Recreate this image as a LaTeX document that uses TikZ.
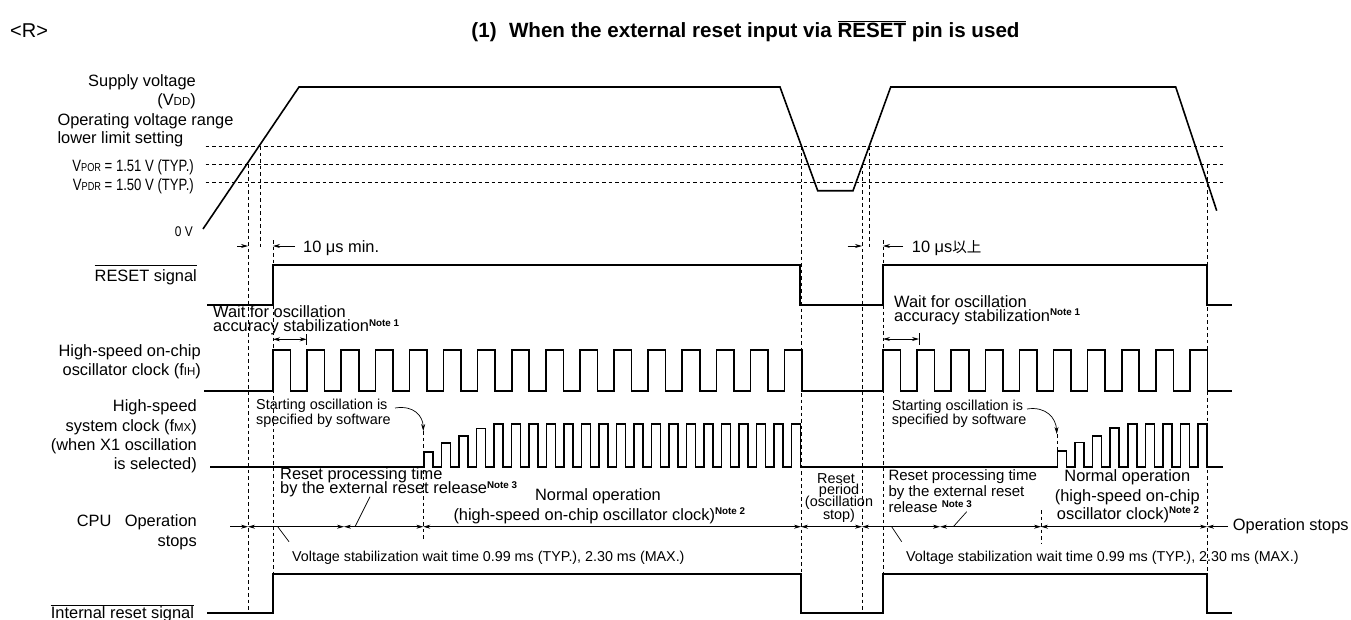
\documentclass[tikz,border=0pt]{standalone}
\usepackage{fontspec}
\usepackage{graphicx}
\setmainfont{Liberation Sans}
\newfontfamily\cjk{Noto Sans CJK JP}
\usetikzlibrary{arrows.meta}
\newcommand\smc[1]{{\fontsize{11.5}{11.5}\selectfont #1}}
\newcommand\nt[1]{\raisebox{5.5pt}{\fontsize{9.8}{9.8}\selectfont\bfseries Note #1}}
\newcommand\ovl[1]{$\overline{\mbox{#1}}$}
\newcommand\cnd[1]{\scalebox{0.8}[1]{#1}}
\begin{document}
\begin{tikzpicture}[x=1pt,y=-1pt,
  sig/.style={line width=1.6pt},
  dsh/.style={line width=0.8pt,dash pattern=on 3.5pt off 3pt},
  thinl/.style={line width=0.7pt},
  arr/.style={line width=0.7pt,-{Stealth[length=7pt,width=4pt]}},
  darr/.style={line width=0.7pt,{Stealth[length=7pt,width=4pt]}-{Stealth[length=7pt,width=4pt]}},
  lab/.style={inner sep=0pt,font=\fontsize{16.4}{16.4}\selectfont},
  mid/.style={inner sep=0pt,font=\fontsize{15}{15}\selectfont},
  sml/.style={inner sep=0pt,font=\fontsize{14.4}{14.4}\selectfont},
  vst/.style={inner sep=0pt,font=\fontsize{14.3}{14.3}\selectfont}]
\useasboundingbox (0,0) rectangle (1351,619);

% title
\node[inner sep=0pt,anchor=base west,font=\fontsize{20}{20}\selectfont] (rtag) at (10,37) {<R>};
\node[inner sep=0pt,anchor=base,font=\fontsize{20.6}{20.6}\selectfont\bfseries] (title) at (745.5,37)
  {(1)\hspace{0.6em}When the external reset input via \ovl{RESET} pin is used};

% left labels
\node[lab,anchor=base east] (sv1) at (196,86.7) {Supply voltage};
\node[lab,anchor=base east] (sv2) at (196,105.7) {(V\smc{DD})};
\node[lab,anchor=base west] (op1) at (57.3,125) {Operating voltage range};
\node[lab,anchor=base west] (op2) at (57.3,143.3) {lower limit setting};
\node[lab,anchor=base east] (vpor) at (194,171.7) {\cnd{V\smc{POR} = 1.51 V (TYP.)}};
\node[lab,anchor=base east] (vpdr) at (194,190) {\cnd{V\smc{PDR} = 1.50 V (TYP.)}};
\node[inner sep=0pt,font=\fontsize{14}{14}\selectfont,anchor=base east] (zero) at (193,236.7) {\scalebox{0.85}[1]{0 V}};
\node[lab,anchor=base east] (rs) at (197,281.7) {RESET signal};
\draw[thinl] (rs.west |- 0,265) -- (rs.east |- 0,265);
\node[lab,anchor=base east] (ih1) at (201,356) {High-speed on-chip};
\node[lab,anchor=base east] (ih2) at (201,375) {oscillator clock (f\smc{IH})};
\node[lab,anchor=base east] (mx1) at (197,411.7) {High-speed};
\node[lab,anchor=base east] (mx2) at (197,431.7) {system clock (f\smc{MX})};
\node[lab,anchor=base east] (mx3) at (197,450) {(when X1 oscillation};
\node[lab,anchor=base east] (mx4) at (197,469.3) {is selected)};
\node[lab,anchor=base west] (cpu) at (76.7,526.7) {CPU};
\node[lab,anchor=base east] (ops1) at (197,526.7) {Operation};
\node[lab,anchor=base east] (ops2) at (197,546) {stops};
\node[lab,anchor=base west] (irs) at (50.7,618) {Internal reset signal};
\draw[thinl] (irs.west |- 0,605.7) -- (irs.east |- 0,605.7);

% horizontal dashed levels
\draw[dsh] (205.7,146) -- (1223,146);
\draw[dsh] (205.7,164) -- (1223,164);
\draw[dsh] (205.7,182.3) -- (1223,182.3);

% vertical dashed lines
\draw[dsh] (248,164) -- (248,613);
\draw[dsh] (260,146) -- (260,250);
\draw[dsh] (273,240) -- (273,613);
\draw[dsh] (801,146) -- (801,613);
\draw[dsh] (862,164) -- (862,613);
\draw[dsh] (869,146) -- (869,250);
\draw[dsh] (883,240) -- (883,613);
\draw[dsh] (1207,164) -- (1207,613);
\draw[dsh] (423.3,431) -- (423.3,541);
\draw[dsh] (1041,510) -- (1041,543);
\draw[dsh] (1057.3,434) -- (1057.3,451);

% supply voltage
\draw[sig] (203,229) -- (299,87) -- (780,87) -- (817.7,190.7) -- (853,190.7) -- (890.7,87) -- (1175.7,87) -- (1216.7,210.7);

% 10 us markers
\draw[arr] (237,246) -- (248,246);
\draw[arr] (295,246) -- (273,246);
\node[lab,anchor=base west] (t10a) at (303,252) {10 μs min.};
\draw[arr] (847.7,246) -- (862,246);
\draw[arr] (903,246) -- (883,246);
\node[lab,anchor=base west] (t10b) at (911.7,252) {10 μs{\cjk\fontsize{14.5}{14.5}\selectfont 以上}};

% RESET signal
\draw[sig] (207,305) -- (273,305) -- (273,265) -- (800,265) -- (800,305) -- (883,305) -- (883,265) -- (1207,265) -- (1207,305) -- (1232,305);

% wait for oscillation
\node[lab,anchor=base west] (wa1) at (213,317.5) {Wait for oscillation};
\node[lab,anchor=base west] (wa2) at (213,331.5) {accuracy stabilization\nt{1}};
\draw[darr] (273,339.3) -- (306.7,339.3);
\draw[thinl] (306.7,334) -- (306.7,345);
\node[lab,anchor=base west] (wb1) at (894,307.3) {Wait for oscillation};
\node[lab,anchor=base west] (wb2) at (894,321.3) {accuracy stabilization\nt{1}};
\draw[darr] (883,339) -- (919,339);
\draw[thinl] (919,333) -- (919,345);

% high-speed on-chip oscillator clock
\draw[sig] (204,391)
  foreach \k in {0,...,15} { -- ({273+34.1*\k},391) -- ({273+34.1*\k},350) -- ({290.5+34.1*\k},350) -- ({290.5+34.1*\k},391) }
  -- (883,391)
  foreach \k in {0,...,9} { -- ({883+34.1*\k},391) -- ({883+34.1*\k},350) -- ({900.5+34.1*\k},350) -- ({900.5+34.1*\k},391) }
  -- (1232,391);

% starting oscillation
\node[sml,anchor=base west] (sa1) at (256,409) {Starting oscillation is};
\node[sml,anchor=base west] (sa2) at (256,424) {specified by software};
\draw[arr] (395,408) .. controls (414,405) and (423,416) .. (423.3,431);
\node[sml,anchor=base west] (sb1) at (891.7,410) {Starting oscillation is};
\node[sml,anchor=base west] (sb2) at (891.7,424.5) {specified by software};
\draw[arr] (1027,409) .. controls (1046,406) and (1056,418) .. (1056.8,434);

% high-speed system clock
\draw[sig] (210,466.7)
  foreach \x/\h in {424/451.7,441.5/442.7,459/436,476.5/428.3} { -- (\x,466.7) -- (\x,\h) -- ({\x+8.8},\h) -- ({\x+8.8},466.7) }
  foreach \k in {0,...,17} { -- ({494+17.5*\k},466.7) -- ({494+17.5*\k},424) -- ({502.8+17.5*\k},424) -- ({502.8+17.5*\k},466.7) }
  -- (1057.3,466.7)
  foreach \x/\h in {1057.3/451,1074.9/442.3,1092.5/435.7,1110.1/427.7} { -- (\x,466.7) -- (\x,\h) -- ({\x+9},\h) -- ({\x+9},466.7) }
  foreach \k in {0,...,4} { -- ({1127.7+17.6*\k},466.7) -- ({1127.7+17.6*\k},424) -- ({1136.7+17.6*\k},424) -- ({1136.7+17.6*\k},466.7) }
  -- (1223,466.7);

% CPU labels
\node[lab,anchor=base west] (rp1) at (280,479.5) {Reset processing time};
\node[lab,anchor=base west] (rp2) at (280,493.5) {by the external reset release\nt{3}};
\node[lab,anchor=base] (no1) at (598,500.7) {Normal operation};
\node[lab,anchor=base west] (no2) at (453.3,520) {(high-speed on-chip oscillator clock)\nt{2}};
\node[sml,anchor=base] (rq1) at (836,483.3) {Reset};
\node[sml,anchor=base] (rq2) at (839,494) {period};
\node[sml,anchor=base] (rq3) at (839,506.7) {(oscillation};
\node[sml,anchor=base] (rq4) at (839,519.3) {stop)};
\node[mid,anchor=base west] (rr1) at (888.3,480.7) {Reset processing time};
\node[mid,anchor=base west] (rr2) at (888.3,496.7) {by the external reset};
\node[mid,anchor=base west] (rr3) at (888.3,512.7) {release \nt{3}};
\node[lab,anchor=base] (nb1) at (1127.3,481.7) {Normal operation};
\node[lab,anchor=base] (nb2) at (1127.3,501.7) {(high-speed on-chip};
\node[lab,anchor=base] (nb3) at (1128,519) {oscillator clock)\nt{2}};
\node[lab,anchor=base west] (ostop) at (1232.7,530.7) {Operation stops};

% CPU timeline
\draw[arr] (230,526.7) -- (248,526.7);
\draw[darr] (248,526.7) -- (344,526.7);
\draw[darr] (344,526.7) -- (423.3,526.7);
\draw[darr] (423.3,526.7) -- (801,526.7);
\draw[darr] (801,526.7) -- (862,526.7);
\draw[darr] (862,526.7) -- (940,526.7);
\draw[darr] (940,526.7) -- (1041,526.7);
\draw[darr] (1041,526.7) -- (1207,526.7);
\draw[arr] (1228,526.7) -- (1207,526.7);

% leaders
\draw[thinl] (278,527) -- (289,541.7);
\draw[thinl] (355,526.7) -- (370,496.7);
\draw[thinl] (891.7,526.7) -- (901.7,541.7);
\draw[thinl] (953.3,526.7) -- (966.7,511.7);
\node[vst,anchor=base west] (vsa) at (292,561.7) {Voltage stabilization wait time 0.99 ms (TYP.), 2.30 ms (MAX.)};
\node[vst,anchor=base west] (vsb) at (906,561.7) {Voltage stabilization wait time 0.99 ms (TYP.), 2.30 ms (MAX.)};

% internal reset
\draw[sig] (207,613) -- (273,613) -- (273,574) -- (801,574) -- (801,613) -- (883,613) -- (883,574) -- (1207,574) -- (1207,613) -- (1232,613);
\end{tikzpicture}
\end{document}
